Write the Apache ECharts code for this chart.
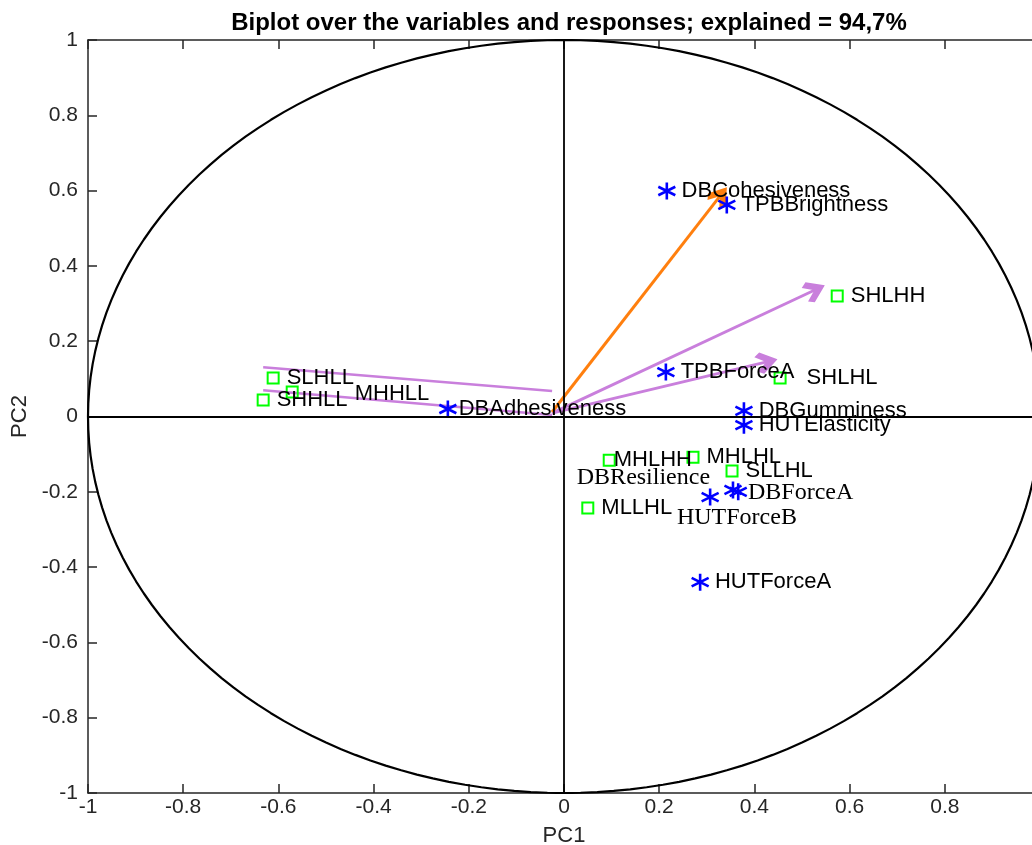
<!DOCTYPE html>
<html>
<head>
<meta charset="utf-8">
<script src="https://cdn.jsdelivr.net/npm/echarts@6/dist/echarts.min.js"></script>
<style>
  html, body { margin: 0; padding: 0; background: #fff; }
  #chart { width: 1032px; height: 845px; }
</style>
</head>
<body>
<div id="chart"></div>
<script>
// variables (blue asterisks)
const varNames = ['DBCohesiveness', 'TPBBrightness', 'TPBForceA', 'DBAdhesiveness', 'DBGumminess',
  'HUTElasticity', 'HUTForceB', 'DBResilience', 'DBForceA', 'HUTForceA']
const varPC1 = [0.216, 0.342, 0.214, -0.244, 0.378, 0.378, 0.307, 0.355, 0.366, 0.286]
const varPC2 = [0.599, 0.562, 0.118, 0.020, 0.015, -0.023, -0.214, -0.195, -0.200, -0.440]

// responses (green squares)
const respNames = ['SHLHH', 'SHLHL', 'SLHLL', 'SHHLL', 'MHHLL', 'MHLHH', 'MHLHL', 'SLLHL', 'MLLHL']
const respPC1 = [0.574, 0.454, -0.611, -0.632, -0.571, 0.095, 0.271, 0.353, 0.050]
const respPC2 = [0.320, 0.102, 0.102, 0.044, 0.065, -0.116, -0.108, -0.145, -0.243]

// loading vectors [fromX, fromY, toX, toY]
const orangeArrow = [-0.025, 0.012, 0.328, 0.586]
const purpleArrows = [
  [-0.025, 0.009, 0.527, 0.336],
  [-0.025, 0.009, 0.426, 0.145],
]
const purpleLines = [
  [-0.632, 0.131, -0.025, 0.068],
  [-0.632, 0.070, -0.025, 0.004],
]

// unit circle
const circle = []
for (let i = 0; i <= 360; i += 2) {
  const a = i * Math.PI / 180
  circle.push([Math.cos(a), Math.sin(a)])
}

const FONT = 'Liberation Sans, Arial, Helvetica, sans-serif'
const SERIF = 'Liberation Serif, DejaVu Serif, serif'
const asterisk = 'path://M0,-10L0,10M-8.66,-5L8.66,5M-8.66,5L8.66,-5'
const chevron = 'path://M0,0L14,14L9.5,19L0,10L-9.5,19L-14,14Z'

// label tweaks (distance from marker edge, vertical shift, font)
const varLabel = {
  DBAdhesiveness: { d: 1 },
  HUTForceB: { pos: [-43, 21], serif: true },
  DBResilience: { pos: [-166, -12], serif: true },
  DBForceA: { pos: [0, 1], serif: true },
}
const respLabel = {
  SHLHL: { d: 20 },
  MHHLL: { d: 56, dy: 2 },
  MHLHH: { d: -2 },
}

const varData = varNames.map((n, i) => {
  const t = varLabel[n] || {}
  const lab = {
    show: true, formatter: n, color: '#000',
    fontSize: t.serif ? 24 : 22,
    fontFamily: t.serif ? SERIF : FONT,
    position: 'right',
  }
  if (t.pos) {
    lab.distance = t.pos[0] < 0 ? 0 : t.pos[0]
    lab.offset = [t.pos[0] < 0 ? t.pos[0] : 0, t.pos[1]]
  } else {
    lab.distance = t.d != null ? t.d : 5
  }
  return { value: [varPC1[i], varPC2[i]], label: lab }
})

const respData = respNames.map((n, i) => {
  const t = respLabel[n] || {}
  return {
    value: [respPC1[i], respPC2[i]],
    label: {
      show: true, formatter: n, position: 'right', color: '#000', fontSize: 22, fontFamily: FONT,
      distance: t.d != null ? t.d : 7, offset: [0, t.dy || 0],
    },
  }
})

const toLines = (arr) => arr.map((s) => ({ coords: [[s[0], s[1]], [s[2], s[3]]] }))

const axisCommon = {
  type: 'value', min: -1, max: 1, interval: 0.2,
  axisLine: { show: true, onZero: false, lineStyle: { color: '#262626', width: 1.5 } },
  axisTick: { show: true, inside: true, length: 9, lineStyle: { color: '#262626', width: 1.5 } },
  splitLine: { show: false },
}

const chart = echarts.init(document.getElementById('chart'))
chart.setOption({
  animation: false,
  title: {
    text: 'Biplot over the variables and responses; explained = 94,7%',
    left: 564, top: 6, textAlign: 'center',
    textStyle: { fontSize: 24, fontWeight: 'bold', color: '#000', fontFamily: FONT },
  },
  grid: { left: 88, top: 40, width: 952, height: 753, containLabel: false, outerBoundsMode: 'none' },
  xAxis: [
    Object.assign({}, axisCommon, {
      position: 'bottom',
      name: 'PC1', nameLocation: 'middle', nameGap: 32,
      nameTextStyle: { fontSize: 22, color: '#262626', fontFamily: FONT },
      axisLabel: { fontSize: 21, color: '#262626', fontFamily: FONT, margin: 4 },
    }),
    Object.assign({}, axisCommon, { position: 'top', axisLabel: { show: false } }),
  ],
  yAxis: [
    Object.assign({}, axisCommon, {
      position: 'left',
      name: 'PC2', nameLocation: 'middle', nameGap: 53,
      nameTextStyle: { fontSize: 22, color: '#262626', fontFamily: FONT },
      axisLabel: { fontSize: 21, color: '#262626', fontFamily: FONT, margin: 10 },
    }),
  ],
  series: [
    {
      type: 'line', data: circle, showSymbol: false, silent: true,
      lineStyle: { color: '#000', width: 2.2 },
      markLine: {
        silent: true, symbol: 'none', label: { show: false },
        lineStyle: { color: '#000', width: 1.8, type: 'solid' },
        data: [{ xAxis: 0 }, { yAxis: 0 }],
      },
      z: 1,
    },
    {
      type: 'lines', coordinateSystem: 'cartesian2d', silent: true,
      data: toLines(purpleLines),
      lineStyle: { color: '#c97fdc', width: 2.5, opacity: 1 },
      z: 2,
    },
    {
      type: 'lines', coordinateSystem: 'cartesian2d', silent: true,
      data: toLines(purpleArrows),
      symbol: ['none', chevron], symbolSize: [26, 22],
      lineStyle: { color: '#c97fdc', width: 3, opacity: 1 },
      z: 2,
    },
    {
      type: 'lines', coordinateSystem: 'cartesian2d', silent: true,
      data: toLines([orangeArrow]),
      symbol: ['none', chevron], symbolSize: [26, 22],
      lineStyle: { color: '#ff7f0e', width: 3, opacity: 1 },
      z: 2,
    },
    {
      type: 'scatter', data: respData, symbol: 'rect', symbolSize: 11,
      itemStyle: { color: 'rgba(0,0,0,0)', borderColor: '#00ff00', borderWidth: 2, opacity: 1 },
      z: 3,
    },
    {
      type: 'scatter', data: varData, symbol: asterisk, symbolSize: 17,
      itemStyle: { color: 'rgba(0,0,0,0)', borderColor: '#0000ff', borderWidth: 2.6, opacity: 1 },
      z: 4,
    },
  ],
})
</script>
</body>
</html>
